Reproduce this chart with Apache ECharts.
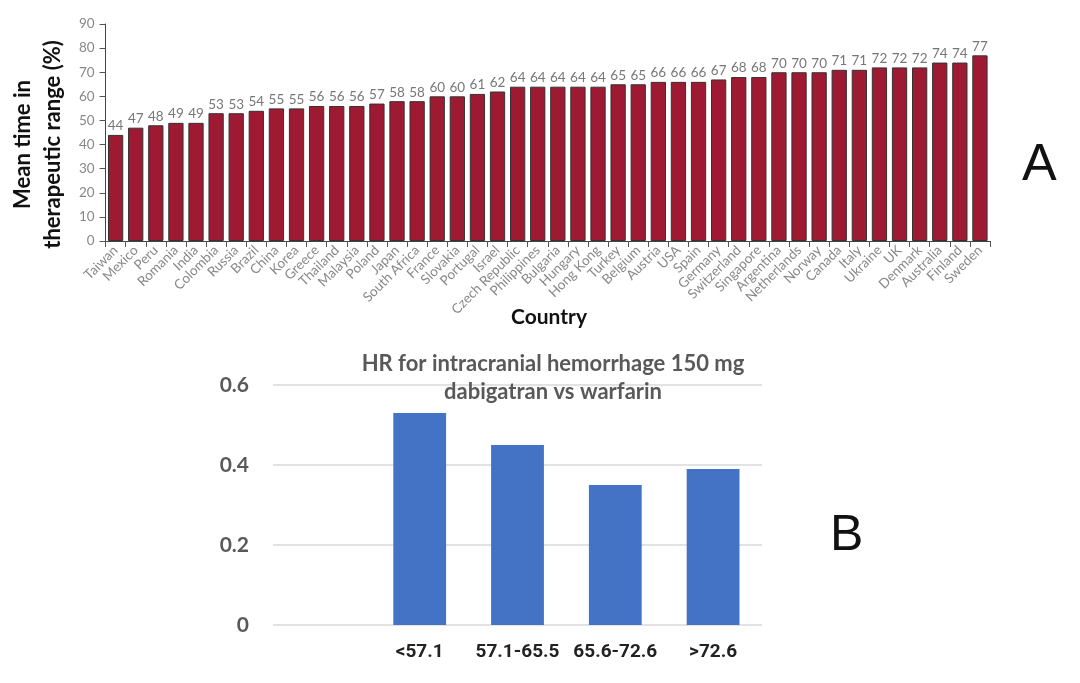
<!DOCTYPE html>
<html>
<head>
<meta charset="utf-8">
<script src="https://cdn.jsdelivr.net/npm/echarts@6/dist/echarts.min.js"></script>
<style>
html,body{margin:0;padding:0;background:#fff;}
#c{width:1080px;height:683px;}
</style>
</head>
<body>
<div id="c"></div>
<script>
var countries = ['Taiwan','Mexico','Peru','Romania','India','Colombia','Russia','Brazil','China','Korea','Greece','Thailand','Malaysia','Poland','Japan','South Africa','France','Slovakia','Portugal','Israel','Czech Republic','Philippines','Bulgaria','Hungary','Hong Kong','Turkey','Belgium','Austria','USA','Spain','Germany','Switzerland','Singapore','Argentina','Netherlands','Norway','Canada','Italy','Ukraine','UK','Denmark','Australia','Finland','Sweden'];
var ttrValues = [44,47,48,49,49,53,53,54,55,55,56,56,56,57,58,58,60,60,61,62,64,64,64,64,64,65,65,66,66,66,67,68,68,70,70,70,71,71,72,72,72,74,74,77];
var ttrTicks = [0,10,20,30,40,50,60,70,80,90];

var hrCategories = ['', '<57.1', '57.1-65.5', '65.6-72.6', '>72.6'];
var hrValues = [null, 0.53, 0.45, 0.35, 0.39];
var hrTicks = [0, 0.2, 0.4, 0.6];

var chart = echarts.init(document.getElementById('c'));
var option = {
  animation: false,
  backgroundColor: '#ffffff',
  grid: [
    {left: 99, right: 90, top: 24, bottom: 442},
    {left: 273, right: 318, top: 385, bottom: 58}
  ],
  title: [{
    text: 'HR for intracranial hemorrhage 150 mg\ndabigatran vs warfarin',
    left: 548, top: 345, textAlign: 'center',
    textStyle: {fontFamily: 'Lato', fontWeight: 'bold', fontSize: 22, color: '#595959', lineHeight: 28}
  }, {
    text: 'Country',
    left: 544, top: 302, textAlign: 'center',
    textStyle: {fontFamily: 'Lato', fontWeight: 'bold', fontSize: 21, color: '#111'}
  }],
  xAxis: [{
    gridIndex: 0, type: 'category', data: countries,
    axisLine: {lineStyle: {color: '#444', width: 1}},
    axisTick: {show: true, length: 6, lineStyle: {color: '#555'}},
    axisLabel: {rotate: 45, fontFamily: 'Lato', fontSize: 13.5, color: '#888', margin: 7, interval: 0}
  }, {
    gridIndex: 1, type: 'category', data: hrCategories,
    axisLine: {show: false}, axisTick: {show: false},
    axisLabel: {fontFamily: 'Roboto', fontWeight: 'bold', fontSize: 19, color: '#222', margin: 18, interval: 0}
  }],
  yAxis: [{
    gridIndex: 0, type: 'value', min: ttrTicks[0], max: ttrTicks[ttrTicks.length-1], interval: 10,
    axisLine: {show: true, lineStyle: {color: '#444', width: 1}},
    axisTick: {show: true, length: 6, lineStyle: {color: '#555'}},
    splitLine: {show: false},
    axisLabel: {fontFamily: 'Lato', fontSize: 13.5, color: '#888', margin: 11},
    name: 'Mean time in\ntherapeutic range (%)', nameLocation: 'middle', nameGap: 27,
    nameTextStyle: {fontFamily: 'Lato', fontWeight: 'bold', fontSize: 22, color: '#111', lineHeight: 30, padding: [0, 24, 0, 0]}
  }, {
    gridIndex: 1, type: 'value', min: hrTicks[0], max: hrTicks[hrTicks.length-1], interval: 0.2,
    axisLine: {show: false}, axisTick: {show: false},
    splitLine: {show: true, lineStyle: {color: '#d9d9d9', width: 1.5}},
    axisLabel: {fontFamily: 'Lato', fontWeight: 'bold', fontSize: 21, color: '#595959', margin: 24}
  }],
  series: [{
    type: 'bar', xAxisIndex: 0, yAxisIndex: 0, data: ttrValues,
    barCategoryGap: '24%',
    itemStyle: {color: '#9e1a33', borderColor: '#333333', borderWidth: 1},
    label: {show: true, position: 'top', distance: 2, fontFamily: 'Lato', fontSize: 13.5, color: '#777'}
  }, {
    type: 'bar', xAxisIndex: 1, yAxisIndex: 1, data: hrValues,
    barCategoryGap: '46%',
    itemStyle: {color: '#4472c4'}
  }],
  graphic: [
    {type: 'text', left: 1022, top: 140, style: {text: 'A', fontFamily: 'Liberation Sans', fontSize: 52, fill: '#111'}},
    {type: 'text', left: 830, top: 511, style: {text: 'B', fontFamily: 'Liberation Sans', fontSize: 50, fill: '#111'}}
  ]
};
chart.setOption(option);
</script>
</body>
</html>
